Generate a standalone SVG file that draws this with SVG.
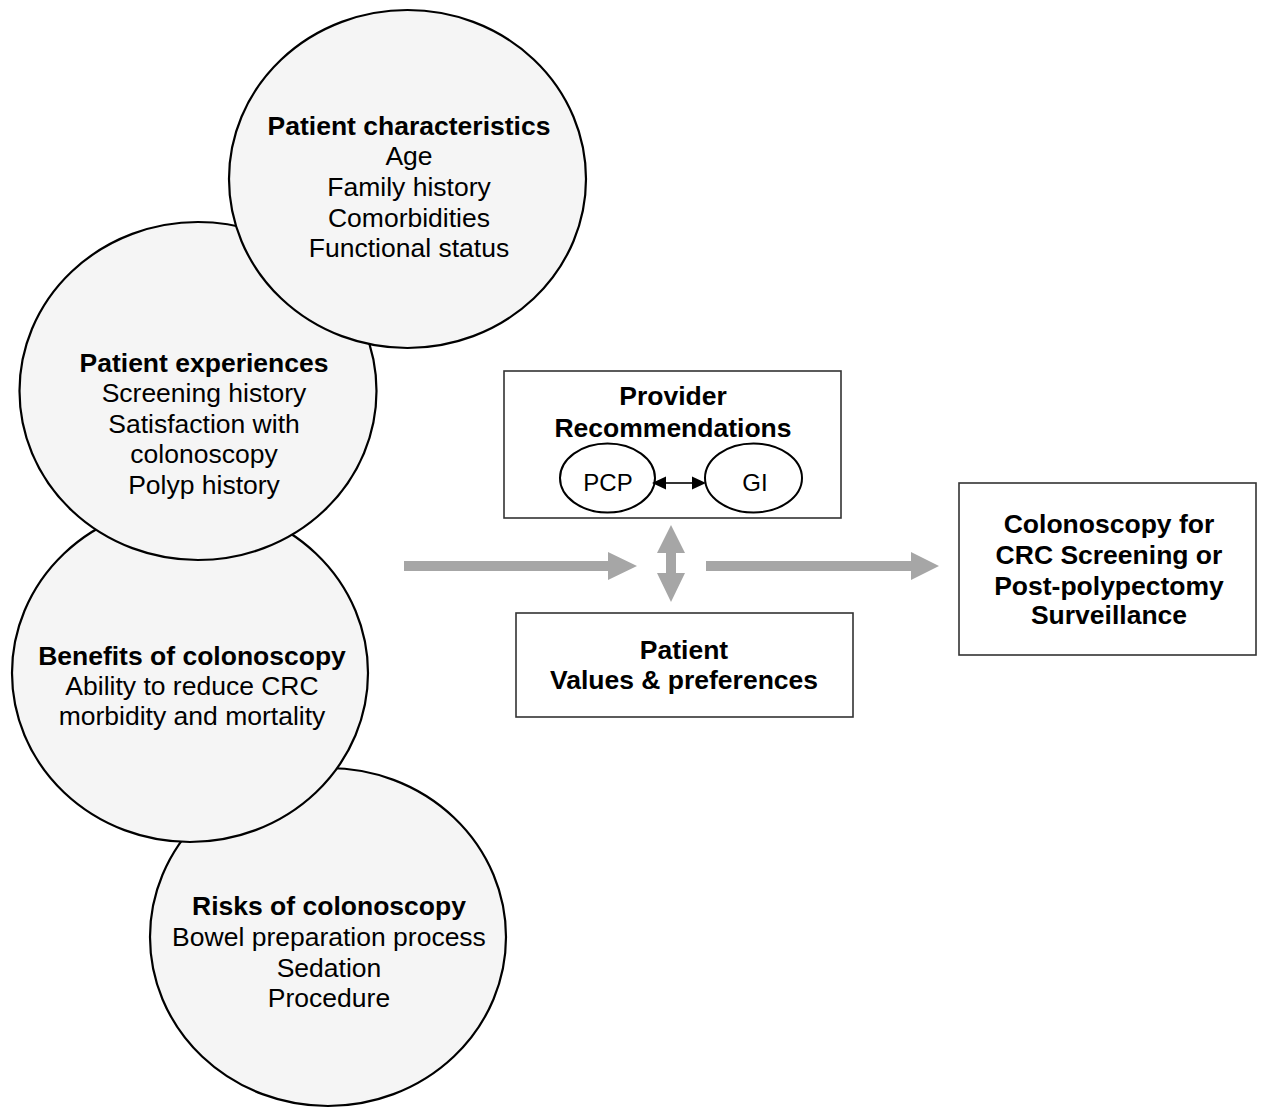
<svg xmlns="http://www.w3.org/2000/svg" width="1262" height="1108" viewBox="0 0 1262 1108">
<style>
.bg{fill:#ffffff}
.circ{fill:#f5f5f5;stroke:#000;stroke-width:2.2}
.box{fill:#fff;stroke:#333;stroke-width:1.6}
.ell{fill:#fff;stroke:#000;stroke-width:2}
text{font-family:"Liberation Sans",Arial,sans-serif;font-size:26.5px;fill:#000;text-anchor:middle}
.b{font-weight:bold}
.sm{font-size:24px}
.gray{fill:#a6a6a6}
.head{fill:#000}
</style>
<rect class="bg" x="0" y="0" width="1262" height="1108"/>

<g id="risks">
<ellipse class="circ" cx="328" cy="937" rx="178" ry="169"/>
<text x="329" y="915" class="b">Risks of colonoscopy</text>
<text x="329" y="946">Bowel preparation process</text>
<text x="329" y="977">Sedation</text>
<text x="329" y="1007">Procedure</text>
</g>

<g id="benefits">
<ellipse class="circ" cx="190" cy="673" rx="178" ry="169"/>
<text x="192" y="665" class="b">Benefits of colonoscopy</text>
<text x="192" y="695">Ability to reduce CRC</text>
<text x="192" y="725">morbidity and mortality</text>
</g>

<g id="experiences">
<ellipse class="circ" cx="198" cy="391" rx="178.5" ry="169"/>
<text x="204" y="372" class="b">Patient experiences</text>
<text x="204" y="402">Screening history</text>
<text x="204" y="433">Satisfaction with</text>
<text x="204" y="463">colonoscopy</text>
<text x="204" y="494">Polyp history</text>
</g>

<g id="characteristics">
<ellipse class="circ" cx="407.5" cy="179" rx="178.5" ry="169"/>
<text x="409" y="134.5" class="b">Patient characteristics</text>
<text x="409" y="165">Age</text>
<text x="409" y="196">Family history</text>
<text x="409" y="226.5">Comorbidities</text>
<text x="409" y="257">Functional status</text>
</g>

<g id="provider">
<rect class="box" x="504" y="371" width="337" height="147"/>
<text x="673" y="405" class="b">Provider</text>
<text x="673" y="437" class="b">Recommendations</text>
</g>

<g id="pcp">
<ellipse class="ell" cx="607.5" cy="478" rx="47.5" ry="34.5"/>
<text x="608" y="491" class="sm">PCP</text>
</g>

<g id="gi">
<ellipse class="ell" cx="753.5" cy="478" rx="48.5" ry="34.5"/>
<text x="755" y="491" class="sm">GI</text>
</g>

<g id="patient">
<rect class="box" x="516" y="613" width="337" height="104"/>
<text x="684" y="659" class="b">Patient</text>
<text x="684" y="689" class="b">Values &amp; preferences</text>
</g>

<g id="outcome">
<rect class="box" x="959" y="483" width="297" height="172"/>
<text x="1109" y="533" class="b">Colonoscopy for</text>
<text x="1109" y="564" class="b">CRC Screening or</text>
<text x="1109" y="595" class="b">Post-polypectomy</text>
<text x="1109" y="624" class="b">Surveillance</text>
</g>

<g id="connectors">
<line x1="664" y1="483" x2="694" y2="483" stroke="#000" stroke-width="1.6"/>
<polygon class="head" points="652,483 666,476.5 666,489.5"/>
<polygon class="head" points="706,483 692,476.5 692,489.5"/>
<polygon class="gray" points="404,561 608,561 608,552 637,566 608,580 608,571 404,571"/>
<polygon class="gray" points="706,561 911,561 911,552 939,566 911,580 911,571 706,571"/>
<polygon class="gray" points="671,525 685,553 676,553 676,573 685,573 671,602 657,573 666,573 666,553 657,553"/>
</g>
</svg>
